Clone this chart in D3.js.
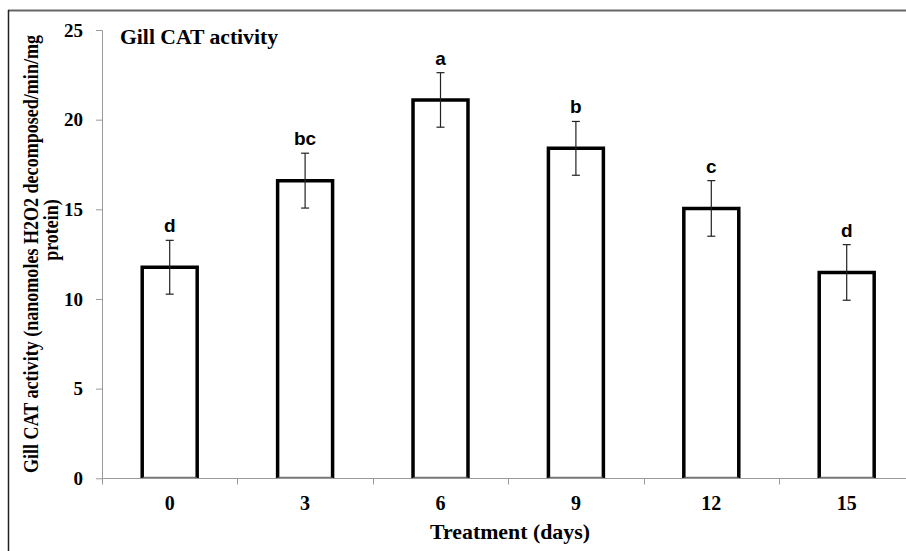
<!DOCTYPE html>
<html><head><meta charset="utf-8">
<script src="https://cdn.jsdelivr.net/npm/d3@7"></script>
<style>body{margin:0;background:#fff}svg{display:block}</style>
</head><body>
<svg id="c" width="906" height="551"></svg>
<script>
const categories = ["0","3","6","9","12","15"];
const values = [11.77, 16.6, 21.1, 18.4, 15.05, 11.48];
const errors = [1.5, 1.53, 1.52, 1.5, 1.55, 1.55];
const letters = ["d","bc","a","b","c","d"];
const yTicks = [0,5,10,15,20,25];

const svg = d3.select("#c");
const W = 906, H = 551;
const x = d3.scaleBand().domain(categories).range([102, 914.4]).paddingInner(0.594).paddingOuter(0.297);
const y = d3.scaleLinear().domain([0,25]).range([478.3, 30]);

// frame
svg.append("line").attr("x1",8).attr("x2",W).attr("y1",10.5).attr("y2",10.5).attr("stroke","#666").attr("stroke-width",2);
svg.append("line").attr("x1",8.5).attr("x2",8.5).attr("y1",10).attr("y2",H).attr("stroke","#222").attr("stroke-width",1.5);

const serif = "'Liberation Serif','Times New Roman',serif";
const sans = "'Liberation Sans',Arial,sans-serif";

// bars
const g = svg.append("g");
categories.forEach((c,i)=>{
  const x0 = x(c), x1 = x(c)+x.bandwidth(), yt = y(values[i]), yb = y(0);
  g.append("path").attr("d",`M${x0},${yb}V${yt}H${x1}V${yb}`).attr("fill","#fff").attr("stroke","#000").attr("stroke-width",3.5);
  g.append("line").attr("x1",x0).attr("x2",x1).attr("y1",yb-1).attr("y2",yb-1).attr("stroke","#555").attr("stroke-width",1);
  const cx = x(c)+x.bandwidth()/2;
  const e1 = y(values[i]+errors[i]), e2 = y(values[i]-errors[i]);
  g.append("line").attr("x1",cx).attr("x2",cx).attr("y1",e1).attr("y2",e2).attr("stroke","#222").attr("stroke-width",1.2);
  [e1,e2].forEach(yy=>g.append("line").attr("x1",cx-4).attr("x2",cx+4).attr("y1",yy).attr("y2",yy).attr("stroke","#222").attr("stroke-width",1.2));
  g.append("text").attr("x",cx).attr("y",e1-8).attr("text-anchor","middle")
    .attr("font-family",sans).attr("font-weight","bold").attr("font-size",19).text(letters[i]);
});

// y axis
const ya = svg.append("g").attr("transform","translate(102,0)")
  .call(d3.axisLeft(y).tickValues(yTicks).tickSize(6).tickPadding(13).tickFormat(d3.format("d")));
ya.select(".domain").attr("stroke","#999").attr("d","M-6,30.5H0.5V478.5");
ya.selectAll(".tick line").attr("stroke","#999");
ya.selectAll(".tick text").attr("font-family",serif).attr("font-weight","bold").attr("font-size",19).attr("fill","#000").attr("dy","0.33em");

// x axis
const xa = svg.append("g").attr("transform","translate(0,478.5)")
  .call(d3.axisBottom(x).tickSize(0));
xa.select(".domain").attr("stroke","#999").attr("d","M102,0H914");
xa.selectAll(".tick text").attr("font-family",serif).attr("font-weight","bold").attr("font-size",20).attr("fill","#000").attr("y",31).attr("dy",0);
const bounds = d3.range(categories.length+1).map(i=>102 + i*x.step());
xa.selectAll(".bnd").data(bounds).enter().append("line").attr("class","bnd")
  .attr("x1",d=>Math.round(d)+0.5).attr("x2",d=>Math.round(d)+0.5).attr("y1",0).attr("y2",6).attr("stroke","#999");

// title
svg.append("text").attr("x",120).attr("y",44).attr("font-family",serif).attr("font-weight","bold").attr("font-size",20)
  .attr("textLength",158).attr("lengthAdjust","spacingAndGlyphs").text("Gill CAT activity");

// axis titles
svg.append("text").attr("x",510).attr("y",539).attr("text-anchor","middle").attr("font-family",serif).attr("font-weight","bold").attr("font-size",21)
  .attr("textLength",160).attr("lengthAdjust","spacingAndGlyphs").text("Treatment (days)");
svg.append("text").attr("transform","translate(38,254) scale(1.2,1) rotate(-90)").attr("text-anchor","middle").attr("font-family",serif).attr("font-weight","bold").attr("font-size",18)
  .attr("textLength",438).attr("lengthAdjust","spacingAndGlyphs").text("Gill CAT activity (nanomoles H2O2 decomposed/min/mg");
svg.append("text").attr("transform","translate(58,230) scale(1.2,1) rotate(-90)").attr("text-anchor","middle").attr("font-family",serif).attr("font-weight","bold").attr("font-size",18)
  .text("protein)");
</script>
</body></html>
